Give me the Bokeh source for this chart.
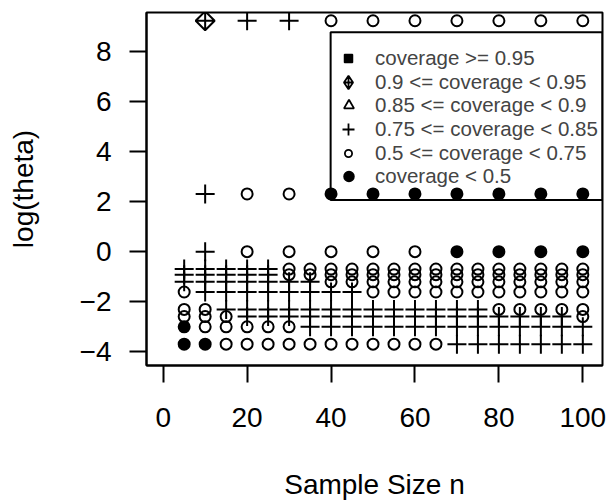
import numpy as np
from bokeh.plotting import figure
from bokeh.models import ColumnDataSource, Legend, LegendItem, BoxAnnotation, FixedTicker, Range1d
from bokeh.embed import file_html
from bokeh.resources import INLINE

# ---------------- data ----------------
# sample sizes
n_all = [5, 10, 15, 20, 25, 30, 35, 40, 45, 50, 55, 60, 65, 70, 75, 80, 85, 90, 95, 100]
n_tens = [10, 20, 30, 40, 50, 60, 70, 80, 90, 100]

# theta values examined at n = 10, 20, ..., 100
theta_high = [10000, 10, 1]
cat_theta_10000 = ["B", "D", "D", "E", "E", "E", "E", "E", "E", "E"]
cat_theta_10 = ["D", "E", "E", "F", "F", "F", "F", "F", "F", "F"]
cat_theta_1 = ["D", "E", "E", "E", "E", "E", "F", "F", "F", "F"]

# theta values examined at n = 5, 10, ..., 100
theta_low = [0.5, 0.4, 0.3, 0.2, 0.1, 0.075, 0.05, 0.025]
cat_theta_0500 = ["D"] * 5 + ["E"] * 15
cat_theta_0400 = ["D"] * 5 + ["E"] * 15
cat_theta_0300 = ["D"] * 7 + ["E"] * 13
cat_theta_0200 = ["E"] + ["D"] * 8 + ["E"] * 11
cat_theta_0100 = ["E"] * 2 + ["D"] * 13 + ["E"] * 5
cat_theta_0075 = ["E"] * 3 + ["D"] * 16 + ["E"]
cat_theta_0050 = ["F"] + ["E"] * 5 + ["D"] * 14
cat_theta_0025 = ["F"] * 2 + ["E"] * 11 + ["D"] * 7

# coverage categories
cat_codes = ["A", "B", "C", "D", "E", "F"]
cat_labels = ["coverage >= 0.95", "0.9 <= coverage < 0.95", "0.85 <= coverage < 0.9",
              "0.75 <= coverage < 0.85", "0.5 <= coverage < 0.75", "coverage < 0.5"]

# ---------------- table ----------------
rows_n, rows_lt, rows_cat = [], [], []
for th, cats in zip(theta_high, [cat_theta_10000, cat_theta_10, cat_theta_1]):
    for n, c in zip(n_tens, cats):
        rows_n.append(n); rows_lt.append(float(np.log(th))); rows_cat.append(c)
for th, cats in zip(theta_low, [cat_theta_0500, cat_theta_0400, cat_theta_0300, cat_theta_0200,
                                cat_theta_0100, cat_theta_0075, cat_theta_0050, cat_theta_0025]):
    for n, c in zip(n_all, cats):
        rows_n.append(n); rows_lt.append(float(np.log(th))); rows_cat.append(c)
rows_n = np.array(rows_n); rows_lt = np.array(rows_lt); rows_cat = np.array(rows_cat)

FONT = "Liberation Sans"
X0, X1 = -3.98, 104.69
Y0, Y1 = -4.54, 9.54
W, H = 608, 502
BL, BR, BT, BB = 146, 6, 12, 136

p = figure(width=W, height=H, output_backend="svg", toolbar_location=None,
           x_range=Range1d(X0, X1), y_range=Range1d(Y0, Y1),
           min_border_left=BL, min_border_right=BR, min_border_top=BT, min_border_bottom=BB,
           x_axis_label="Sample Size n", y_axis_label="log(theta)")
p.xgrid.visible = False
p.ygrid.visible = False
p.outline_line_color = "black"
p.outline_line_width = 2
p.background_fill_color = "white"
p.border_fill_color = "white"

for ax in (p.xaxis[0], p.yaxis[0]):
    ax.axis_line_width = 2
    ax.major_tick_line_width = 2
    ax.major_tick_out = 17
    ax.major_tick_in = 0
    ax.minor_tick_out = 0
    ax.minor_tick_in = 0
    ax.major_label_text_font = FONT
    ax.major_label_text_font_size = "28px"
    ax.major_label_text_color = "black"
    ax.axis_label_text_font = FONT
    ax.axis_label_text_font_size = "28px"
    ax.axis_label_text_font_style = "normal"
    ax.axis_label_text_color = "black"
p.xaxis.ticker = FixedTicker(ticks=[0, 20, 40, 60, 80, 100])
p.yaxis.ticker = FixedTicker(ticks=[-4, -2, 0, 2, 4, 6, 8])
p.yaxis.major_label_overrides = {-4: "\u22124", -2: "\u22122"}
p.xaxis.major_label_standoff = 25
p.yaxis.major_label_standoff = 18
p.xaxis.axis_label_standoff = 39
p.yaxis.axis_label_standoff = 38

# marker styles per category (plot)
styles = {
    "A": dict(marker="square", size=10, fill_color="black", fill_alpha=1.0),
    "B": dict(marker="square_x", size=13.4, angle=np.pi / 4, fill_alpha=0.0),
    "C": dict(marker="triangle", size=14, fill_alpha=0.0),
    "D": dict(marker="cross", size=19, fill_alpha=0.0),
    "E": dict(marker="circle", size=11, fill_alpha=0.0),
    "F": dict(marker="circle", size=11, fill_color="black", fill_alpha=1.0),
}
renderers = {}
for code in cat_codes:
    m = rows_cat == code
    src = ColumnDataSource(dict(n=rows_n[m], lt=rows_lt[m]))
    renderers[code] = p.scatter("n", "lt", source=src, line_color="black", line_width=2,
                                **styles[code])

# legend keys: renderers with no visible point (legend draws its own symbol)
leg_styles = {
    "A": dict(marker="square", fill_color="black", fill_alpha=1.0, line_width=1.5),
    "B": dict(marker="diamond_cross", fill_alpha=0.0, line_width=1.8),
    "C": dict(marker="triangle", fill_alpha=0.0, line_width=1.8),
    "D": dict(marker="cross", fill_alpha=0.0, line_width=1.8),
    "E": dict(marker="circle", fill_alpha=0.0, line_width=1.8),
    "F": dict(marker="circle", fill_color="black", fill_alpha=1.0, line_width=1.5),
}
leg_renderers = {}
for code in cat_codes:
    leg_renderers[code] = p.scatter(x=[np.nan], y=[np.nan], line_color="black", **leg_styles[code])

# legend frame
p.add_layout(BoxAnnotation(left=39.9, right=X1, top=8.75, bottom=2.06,
                           fill_alpha=0.0, line_color="black", line_width=2, line_alpha=1.0))

# legend glyph box widths (symbol size = 0.4 * width)
leg_widths = {"A": 20, "B": 34, "C": 25, "D": 30, "E": 18, "F": 25}
frame_h = H - BT - BB
for k, (code, label) in enumerate(zip(cat_codes, cat_labels)):
    G = leg_widths[code]
    center_from_top = 47.3 + 23.6 * k
    vy = int(round(frame_h - center_from_top - 20))
    vx = int(round(202.3 - G / 2))
    lg = Legend(items=[LegendItem(label=label, renderers=[leg_renderers[code]])],
                location=(vx, vy), padding=0, margin=0, spacing=0,
                glyph_width=G, glyph_height=40, label_height=40,
                label_standoff=int(round(26.7 - G / 2)),
                label_text_font=FONT, label_text_font_size="20.5px",
                border_line_alpha=0.0, background_fill_alpha=0.0)
    p.add_layout(lg, "center")

open("out.html", "w").write(file_html(p, INLINE))
